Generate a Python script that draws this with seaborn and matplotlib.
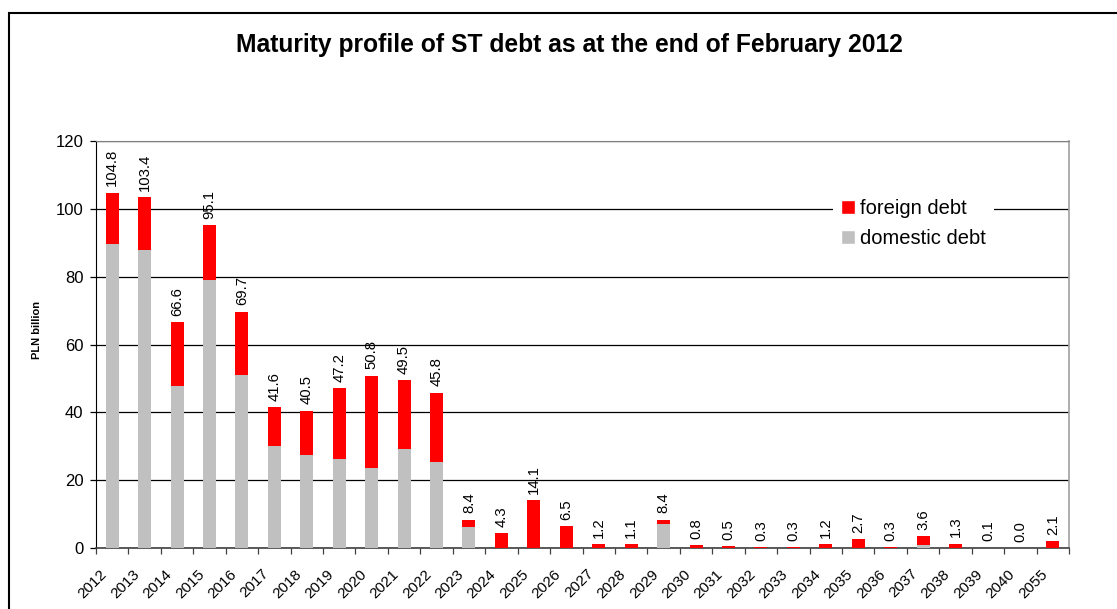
import matplotlib
matplotlib.use("Agg")
import matplotlib.pyplot as plt
import numpy as np
import pandas as pd
import seaborn as sns
from matplotlib.patches import Rectangle, Patch
from matplotlib.ticker import FixedLocator
from matplotlib.transforms import ScaledTranslation

# Data
years = ['2012', '2013', '2014', '2015', '2016', '2017', '2018', '2019', '2020', '2021',
         '2022', '2023', '2024', '2025', '2026', '2027', '2028', '2029', '2030', '2031',
         '2032', '2033', '2034', '2035', '2036', '2037', '2038', '2039', '2040', '2055']
total = [104.8, 103.4, 66.6, 95.1, 69.7, 41.6, 40.5, 47.2, 50.8, 49.5,
         45.8, 8.4, 4.3, 14.1, 6.5, 1.2, 1.1, 8.4, 0.8, 0.5,
         0.3, 0.3, 1.2, 2.7, 0.3, 3.6, 1.3, 0.1, 0.0, 2.1]
domestic = [89.7, 87.9, 47.8, 79.0, 51.0, 30.1, 27.4, 26.3, 23.6, 29.2,
            25.4, 6.2, 0.0, 0.0, 0.0, 0.0, 0.0, 7.0, 0.0, 0.0,
            0.0, 0.0, 0.0, 0.0, 0.0, 1.0, 0.0, 0.0, 0.0, 0.0]

df = pd.DataFrame({'year': years, 'total': total, 'domestic': domestic})

sns.set_style("white")
plt.rcParams['font.family'] = ['Liberation Sans', 'DejaVu Sans']
plt.rcParams['text.color'] = 'black'
plt.rcParams['xtick.color'] = 'black'
plt.rcParams['ytick.color'] = 'black'
plt.rcParams['axes.labelcolor'] = 'black'

W, H = 1117, 609
fig = plt.figure(figsize=(W / 100, H / 100), dpi=100)
ax = fig.add_axes([96 / W, 1 - 548 / H, (1069 - 96) / W, (548 - 141) / H])

# Excel-style chart frame
fig.patches.append(Rectangle((8.5 / W, -0.05), 1.1, 1 - 12.5 / H + 0.05,
                             transform=fig.transFigure, fill=False,
                             edgecolor='black', linewidth=1.5))

# stacked bars: full height in red, domestic part in grey on top
sns.barplot(data=df, x='year', y='total', color='#ff0000', width=0.4,
            saturation=1, linewidth=0, ax=ax, zorder=3)
sns.barplot(data=df, x='year', y='domestic', color='#c0c0c0', width=0.4,
            saturation=1, linewidth=0, ax=ax, zorder=4)

# value labels above bars
for i, v in enumerate(total):
    ax.annotate(f'{v:.1f}', xy=(i, v), xytext=(0, 4.5), textcoords='offset points',
                rotation=90, ha='center', va='bottom', fontsize=10.7, color='black',
                zorder=5)

ax.set_xlim(-0.5, len(years) - 0.5)
ax.set_ylim(0, 120)
ax.set_yticks(range(0, 121, 20))
ax.yaxis.grid(True, color='black', linewidth=0.9)
ax.set_axisbelow(True)

# x ticks between categories, labels under the bars
ax.set_xticks(range(len(years)))
ax.set_xticklabels(years, rotation=45, ha='right', rotation_mode='anchor')
ax.xaxis.set_minor_locator(FixedLocator(np.arange(-0.5, len(years), 1.0)))
ax.tick_params(axis='x', which='major', length=0, pad=13.5, labelsize=11)
ax.tick_params(axis='x', which='minor', length=4.5, width=0.9, color='#404040',
               direction='out', bottom=True)
ax.tick_params(axis='y', length=4.5, width=0.9, direction='out', labelsize=12, pad=4.5,
               left=True)
shift = ScaledTranslation(-0.125, 0, fig.dpi_scale_trans)
for lab in ax.get_xticklabels():
    lab.set_transform(lab.get_transform() + shift)

ax.set_xlabel('')
ax.set_ylabel('')
fig.text(37 / W, 1 - 330 / H, 'PLN billion', rotation=90, ha='center', va='center',
         fontsize=8, fontweight='bold')

ax.spines['left'].set_color('black')
ax.spines['bottom'].set_color('#404040')
ax.spines['bottom'].set_linewidth(1.2)
ax.spines['right'].set_color('#a0a0a0')
ax.spines['right'].set_linewidth(1.2)
ax.spines['top'].set_color('#808080')

fig.text(569.5 / W, 1 - 45 / H, 'Maturity profile of ST debt as at the end of February 2012',
         ha='center', va='center', fontsize=17.7, fontweight='bold')

handles = [Patch(facecolor='#ff0000', label='foreign debt'),
           Patch(facecolor='#c0c0c0', label='domestic debt')]
leg = ax.legend(handles=handles, loc='center', bbox_to_anchor=(913.5 / W, 1 - 223.5 / H),
                bbox_transform=fig.transFigure, frameon=True, fontsize=14.5,
                handlelength=0.7, handleheight=0.7, handletextpad=0.25,
                labelspacing=0.55, borderpad=0.4, fancybox=False)
leg.get_frame().set_edgecolor('white')
leg.get_frame().set_facecolor('white')
leg.get_frame().set_alpha(1)
leg.get_frame().set_linewidth(0)
leg.set_zorder(6)

fig.savefig('out.png', dpi=100)
